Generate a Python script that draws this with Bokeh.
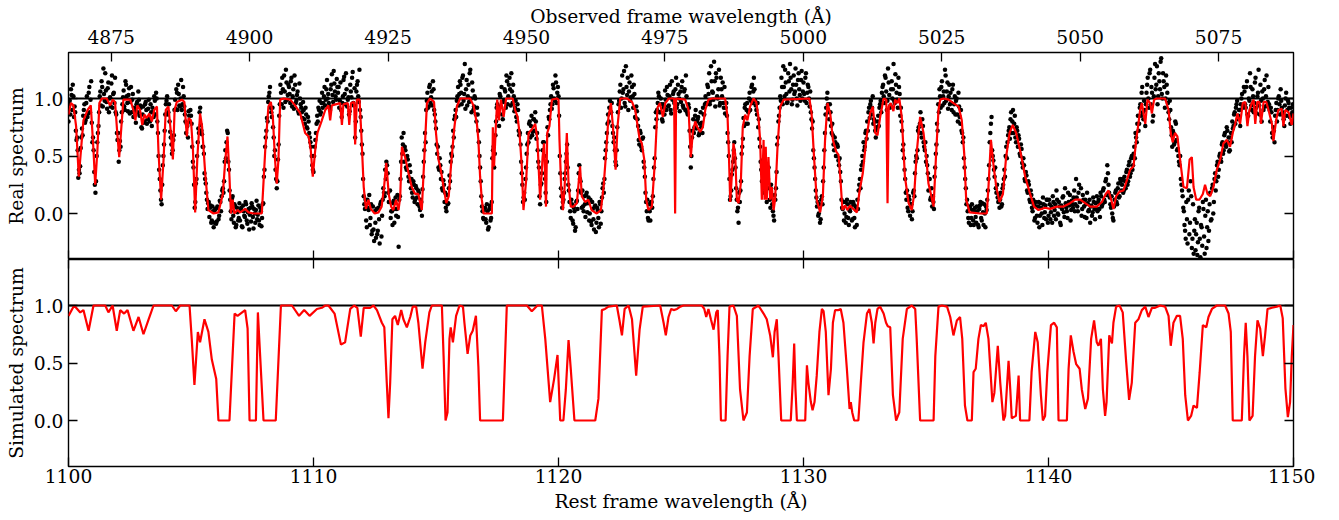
from bokeh.plotting import figure
from bokeh.models import (Range1d, LinearAxis, FixedTicker, PrintfTickFormatter,
                          ColumnDataSource, CustomJSTickFormatter)
from bokeh.layouts import column
from bokeh.embed import file_html
from bokeh.resources import INLINE

# ---------------- data ----------------
REST_TICKS = [1100, 1110, 1120, 1130, 1140, 1150]
OBS_TICKS = [4875, 4900, 4925, 4950, 4975, 5000, 5025, 5050, 5075]
FLUX_TICKS = [0.0, 0.5, 1.0]
REST_RANGE = (1100.0, 1150.0)
FLUX_RANGE = (-0.4, 1.4)
ONE_PLUS_Z = 4.42481
CONTINUUM = 1.0

# observed pixels: two interleaved pixel sets on a regular rest-wavelength grid
REAL_START_A = 1100.0
REAL_START_B = 1100.025
REAL_STEP = 0.05
REAL_FLUX_A = [
    0.80, 0.98, 1.08, 0.90, 1.02, 0.93, 0.72, 0.66, 0.31, 0.35, 0.57, 0.74, 0.85, 0.95, 0.81, 1.02, 0.87, 1.10, 0.99, 0.79,
    0.66, 0.36, 0.18, 0.50, 0.70, 0.88, 1.06, 1.15, 0.93, 1.04, 1.22, 0.97, 1.09, 0.88, 1.01, 1.13, 0.92, 1.05, 1.18, 0.86,
    0.64, 0.45, 0.63, 0.80, 0.95, 1.07, 0.90, 1.12, 0.96, 1.03, 0.87, 1.10, 0.99, 0.84, 0.90, 0.79, 0.97, 1.06, 0.85, 0.92,
    0.74, 0.93, 0.80, 0.97, 0.78, 0.91, 0.82, 0.95, 0.76, 0.88, 1.02, 0.86, 1.00, 0.70, 0.38, 0.20, 0.08, 0.42, 0.60, 0.86,
    0.98, 0.86, 0.95, 0.71, 0.60, 0.55, 0.68, 0.99, 1.08, 0.90, 1.04, 0.93, 1.16, 0.95, 1.02, 0.86, 0.70, 0.76, 0.89, 0.80,
    0.85, 0.58, 0.40, 0.05, 0.26, 0.50, 0.74, 0.88, 0.77, 0.69, 0.58, 0.35, 0.26, 0.12, 0.09, -0.03, 0.07, -0.06, 0.02, -0.08,
    0.04, -0.07, 0.05, -0.02, 0.10, 0.15, 0.22, 0.28, 0.55, 0.62, 0.70, 0.38, 0.12, -0.05, 0.15, -0.08, 0.06, -0.10, 0.01, -0.04,
    -0.06, 0.05, -0.12, 0.02, -0.03, 0.08, -0.09, 0.04, -0.01, -0.07, 0.06, -0.13, 0.00, 0.03, -0.05, 0.07, -0.10, 0.02, -0.04, 0.09,
    0.38, 0.66, 0.83, 0.97, 1.05, 0.92, 0.84, 0.75, 0.50, 0.38, 0.22, 0.47, 0.85, 1.12, 0.95, 1.08, 1.20, 0.97, 1.14, 1.03,
    1.10, 0.96, 1.18, 1.02, 0.91, 1.12, 0.98, 1.06, 0.87, 1.00, 0.92, 0.83, 0.90, 0.78, 0.86, 0.74, 0.80, 0.66, 0.58, 0.42,
    0.36, 0.58, 0.70, 0.85, 0.92, 0.98, 0.88, 1.05, 0.96, 1.10, 0.99, 1.16, 1.04, 0.93, 1.08, 1.21, 0.97, 1.13, 1.02, 1.17,
    1.05, 0.92, 1.14, 0.84, 1.02, 1.19, 0.95, 1.08, 0.99, 0.86, 1.12, 1.01, 1.23, 0.94, 0.66, 1.06, 1.15, 0.97, 0.90, 0.72,
    0.52, 0.15, 0.04, -0.06, 0.12, 0.03, -0.10, 0.08, -0.15, -0.14, 0.02, -0.21, -0.18, 0.05, -0.26, 0.10, -0.02, 0.22, 0.15, 0.30,
    0.42, 0.18, 0.10, -0.04, 0.02, 0.09, -0.08, 0.14, 0.04, -0.03, 0.12, 0.30, 0.66, 0.60, 0.45, 0.55, 0.38, 0.47, 0.28, 0.36,
    0.30, 0.14, 0.25, 0.12, 0.22, 0.08, 0.18, 0.03, 0.10, 0.21, 0.45, 0.70, 0.90, 1.05, 0.93, 1.12, 1.01, 0.94, 1.08, 0.86,
    0.74, 0.52, 0.40, 0.48, 0.30, 0.22, 0.29, 0.10, 0.05, 0.16, 0.09, 0.33, 0.45, 0.50, 0.72, 0.82, 0.90, 0.98, 1.10, 1.04,
    1.12, 0.95, 1.20, 1.04, 0.91, 1.16, 1.02, 0.97, 1.25, 0.88, 1.07, 0.93, 1.00, 0.80, 0.86, 0.62, 0.40, 0.15, 0.02, -0.05,
    0.05, -0.08, 0.02, -0.12, 0.07, -0.04, 0.48, 0.58, 0.52, 0.80, 0.95, 0.88, 1.04, 0.93, 0.86, 0.97, 1.08, 0.92, 1.15, 1.02,
    1.18, 0.94, 1.06, 1.12, 0.89, 0.98, 0.80, 0.90, 0.68, 0.60, 0.35, 0.10, 0.18, 0.30, 0.52, 0.70, 0.78, 0.66, 0.85, 0.71,
    0.82, 0.88, 0.65, 0.55, 0.40, 0.08, 0.26, 0.55, 0.62, 0.30, 0.10, 0.75, 0.84, 0.90, 1.02, 0.95, 1.09, 0.98, 1.14, 1.05,
    1.02, 0.50, 0.22, 0.05, 0.12, 0.30, 0.45, 0.60, 0.25, 0.10, -0.04, 0.08, -0.09, 0.02, -0.12, 0.11, 0.20, 0.42, 0.28, 0.05,
    0.06, 0.15, -0.03, 0.18, 0.09, -0.06, 0.12, -0.10, 0.04, -0.14, 0.07, -0.08, 0.03, -0.12, 0.08, 0.02, 0.22, 0.18, 0.48, 0.62,
    0.78, 0.80, 0.98, 0.88, 0.76, 0.62, 0.55, 0.42, 0.75, 0.95, 1.06, 0.92, 1.20, 1.08, 0.96, 1.28, 1.03, 0.90, 1.14, 1.01,
    1.10, 0.92, 1.04, 0.83, 0.89, 0.76, 0.60, 0.70, 0.55, 0.66, 0.40, 0.18, 0.02, -0.04, 0.08, -0.06, 0.10, 0.15, 0.40, 0.75,
    0.82, 0.96, 1.02, 0.88, 0.95, 0.80, 0.92, 1.07, 0.90, 1.03, 0.94, 1.12, 0.87, 0.99, 1.06, 0.91, 1.18, 0.95, 1.04, 0.89,
    0.97, 1.15, 0.92, 1.08, 1.20, 0.88, 0.95, 0.72, 0.40, 0.66, 0.82, 0.75, 0.90, 0.80, 0.84, 0.70, 0.88, 0.79, 0.92, 0.86,
    1.02, 0.95, 1.10, 1.22, 0.98, 1.15, 1.05, 1.32, 0.93, 1.18, 1.00, 1.25, 0.96, 1.08, 1.14, 0.92, 0.87, 0.96, 0.70, 0.50,
    0.12, 0.20, 0.38, 0.55, 0.48, 0.22, 0.02, -0.08, 0.10, 0.28, 0.58, 0.83, 0.92, 0.78, 0.96, 0.88, 1.05, 0.98, 1.12, 1.06,
    1.08, 0.94, 0.86, 0.75, 0.65, 0.45, 0.28, 0.35, 0.18, 0.40, 0.10, 0.30, 0.22, 0.05, 0.15, 0.02, -0.06, 0.12, 0.36, 0.66,
    0.85, 1.02, 1.18, 0.95, 1.10, 1.25, 1.04, 0.97, 1.15, 1.30, 1.08, 0.99, 1.20, 1.06, 1.12, 0.94, 1.22, 1.03, 1.16, 1.00,
    1.14, 0.98, 1.22, 1.05, 1.10, 0.93, 0.88, 0.74, 0.55, 0.40, 0.20, 0.06, -0.02, 0.08, -0.05, 0.15, 0.28, 0.55, 0.86, 1.00,
    0.95, 0.82, 0.88, 0.70, 0.68, 0.55, 0.62, 0.50, 0.58, 0.42, 0.36, 0.12, 0.04, -0.06, 0.10, -0.03, 0.08, -0.10, 0.02, 0.06,
    -0.05, 0.08, -0.12, 0.03, 0.12, 0.20, 0.30, 0.38, 0.50, 0.62, 0.58, 0.72, 0.80, 0.88, 0.83, 0.98, 0.92, 0.78, 0.80, 0.66,
    0.74, 0.85, 0.92, 0.98, 1.05, 1.12, 0.96, 1.18, 0.90, 1.26, 1.03, 0.94, 1.15, 1.08, 0.98, 1.21, 1.05, 0.92, 1.10, 0.85,
    0.80, 0.55, 0.48, 0.30, 0.12, 0.05, 0.15, -0.02, 0.08, 0.02, 0.20, 0.35, 0.50, 0.55, 0.75, 0.78, 0.70, 0.82, 0.62, 0.55,
    0.45, 0.42, 0.20, 0.30, 0.14, 0.06, 0.10, 0.32, 0.52, 0.78, 0.95, 1.08, 0.92, 1.15, 1.02, 0.96, 1.20, 1.06, 0.91, 1.12,
    1.05, 0.90, 1.12, 0.95, 0.86, 1.00, 0.80, 0.93, 0.78, 0.72, 0.62, 0.48, 0.30, 0.08, 0.02, -0.08, 0.06, -0.04, 0.03, -0.10,
    0.05, -0.08, 0.02, -0.12, 0.07, -0.04, 0.09, -0.10, 0.00, 0.06, 0.12, 0.30, 0.62, 0.78, 0.55, 0.46, 0.32, 0.22, 0.25, 0.10,
    0.05, 0.18, 0.08, 0.25, 0.38, 0.50, 0.48, 0.68, 0.75, 0.82, 0.70, 0.90, 0.78, 0.66, 0.75, 0.58, 0.65, 0.50, 0.56, 0.40,
    0.42, 0.28, 0.33, 0.18, 0.25, 0.10, 0.16, 0.02, 0.08, -0.04, 0.06, -0.08, 0.10, -0.02, 0.05, -0.10, 0.08, 0.01, -0.05, 0.12,
    -0.02, 0.08, 0.01, -0.08, 0.10, 0.03, -0.05, 0.12, -0.01, 0.06, -0.10, 0.04, 0.15, -0.03, 0.09, 0.02, 0.18, 0.07, -0.06, 0.11,
    0.05, 0.20, 0.08, 0.14, 0.02, 0.25, 0.10, -0.02, 0.16, 0.06, 0.12, -0.04, 0.09, 0.03, -0.08, 0.07, 0.01, 0.10, -0.05, 0.04,
    0.02, 0.12, -0.03, 0.15, 0.08, 0.22, 0.10, 0.30, 0.42, 0.25, 0.14, 0.05, 0.00, -0.06, 0.12, 0.20, 0.08, 0.26, 0.15, 0.28,
    0.25, 0.18, 0.32, 0.22, 0.38, 0.28, 0.45, 0.35, 0.50, 0.42, 0.58, 0.70, 0.62, 0.85, 0.78, 0.95, 1.05, 0.88, 0.98, 0.76,
    1.05, 1.18, 0.92, 1.25, 1.10, 0.80, 1.02, 1.30, 1.12, 0.95, 1.22, 1.08, 1.35, 1.00, 1.15, 0.92, 1.20, 1.05, 0.88, 0.98,
    0.75, 0.58, 0.70, 0.62, 0.78, 0.55, 0.50, 0.42, 0.30, 0.20, 0.05, -0.10, -0.22, -0.05, 0.12, -0.18, 0.28, -0.30, 0.08, -0.15,
    -0.32, -0.08, -0.25, 0.05, -0.38, -0.12, 0.10, -0.20, -0.02, -0.30, 0.02, -0.15, 0.18, -0.05, 0.25, 0.10, 0.35, 0.28, 0.45, 0.38,
    0.52, 0.45, 0.62, 0.55, 0.70, 0.58, 0.72, 0.66, 0.55, 0.70, 0.80, 0.76, 0.88, 0.92, 0.98, 0.85, 0.90, 0.95, 1.04, 0.93,
    1.06, 0.92, 1.15, 0.85, 0.98, 1.10, 0.90, 1.02, 0.96, 1.18, 0.87, 1.05, 0.94, 1.12, 0.80, 1.00, 1.08, 0.93, 1.20, 0.97,
    0.95, 0.80, 0.88, 0.66, 0.72, 0.85, 0.96, 0.90, 1.02, 0.86, 0.98, 0.88, 0.82, 0.94, 1.05, 0.90, 0.96, 0.84, 0.92, 0.88,
]
REAL_FLUX_B = [
    0.95, 0.86, 1.03, 1.12, 0.84, 0.88, 0.64, 0.55, 0.38, 0.41, 0.66, 0.68, 0.90, 0.79, 0.96, 0.84, 1.05, 0.88, 1.15, 0.62,
    0.55, 0.25, 0.28, 0.62, 0.76, 1.02, 0.94, 1.10, 1.26, 0.98, 1.07, 0.91, 1.14, 1.00, 0.93, 1.20, 1.04, 0.96, 0.88, 0.70,
    0.70, 0.55, 0.58, 0.88, 1.01, 0.93, 1.15, 1.02, 0.89, 1.09, 0.97, 0.88, 1.04, 0.92, 0.86, 0.95, 0.88, 0.99, 0.94, 0.75,
    0.86, 0.79, 0.95, 0.90, 0.82, 0.99, 0.80, 0.88, 0.92, 0.84, 0.98, 1.05, 0.80, 0.50, 0.30, 0.12, 0.25, 0.50, 0.72, 0.95,
    1.02, 0.88, 0.80, 0.66, 0.52, 0.64, 0.90, 0.91, 1.05, 1.12, 0.94, 1.00, 0.90, 1.10, 0.93, 0.80, 0.78, 0.66, 0.85, 0.90,
    0.78, 0.45, 0.25, 0.10, 0.30, 0.62, 0.70, 0.92, 0.72, 0.58, 0.52, 0.30, 0.18, 0.04, 0.10, 0.05, -0.08, 0.06, -0.12, 0.03,
    -0.09, 0.06, -0.05, 0.11, 0.02, 0.20, 0.18, 0.45, 0.48, 0.72, 0.45, 0.20, 0.02, 0.13, -0.02, 0.08, -0.12, 0.05, -0.06, 0.09,
    0.03, -0.11, 0.07, -0.02, 0.10, -0.06, 0.01, -0.14, 0.05, 0.09, -0.03, 0.04, -0.08, 0.11, -0.01, -0.06, 0.05, -0.11, 0.08, 0.32,
    0.58, 0.72, 0.80, 1.02, 1.10, 0.88, 0.92, 0.66, 0.55, 0.30, 0.28, 0.60, 0.95, 1.05, 1.18, 0.92, 1.06, 1.25, 0.99, 1.12,
    1.04, 1.15, 0.93, 1.08, 1.20, 0.96, 1.03, 0.89, 1.13, 0.95, 0.88, 0.97, 0.82, 0.92, 0.75, 0.84, 0.70, 0.62, 0.50, 0.38,
    0.50, 0.64, 0.78, 0.80, 0.90, 0.86, 0.96, 0.92, 1.02, 0.94, 1.08, 1.00, 0.96, 0.90, 1.12, 1.03, 1.24, 1.06, 0.99, 1.10,
    1.10, 0.98, 0.90, 0.96, 1.16, 1.04, 1.22, 0.93, 1.01, 0.89, 1.06, 1.18, 0.96, 1.09, 0.80, 1.12, 1.02, 1.25, 0.84, 0.60,
    0.30, 0.08, 0.12, -0.12, 0.05, 0.16, -0.04, -0.18, 0.06, -0.24, -0.08, 0.04, -0.15, -0.05, 0.08, -0.20, 0.12, 0.18, 0.38, 0.45,
    0.35, 0.10, 0.20, 0.02, -0.10, 0.11, 0.04, -0.02, 0.16, -0.29, 0.15, 0.45, 0.52, 0.70, 0.58, 0.40, 0.50, 0.32, 0.42, 0.22,
    0.18, 0.28, 0.10, 0.24, 0.14, 0.20, 0.06, 0.12, -0.02, 0.32, 0.55, 0.62, 0.98, 0.92, 1.10, 0.96, 1.06, 1.15, 0.90, 0.80,
    0.60, 0.58, 0.38, 0.42, 0.36, 0.20, 0.25, 0.18, 0.02, 0.08, 0.22, 0.28, 0.52, 0.58, 0.66, 0.85, 0.84, 1.02, 0.94, 1.15,
    1.05, 1.18, 0.98, 1.30, 1.08, 0.94, 1.12, 1.22, 1.00, 1.14, 0.90, 1.02, 0.86, 0.92, 0.72, 0.50, 0.28, 0.06, -0.04, 0.04,
    -0.05, 0.08, -0.14, 0.04, -0.06, 0.10, 0.55, 0.40, 0.68, 0.92, 0.85, 0.76, 1.02, 1.10, 0.82, 0.98, 1.06, 1.20, 0.95, 1.12,
    1.08, 1.22, 0.96, 1.02, 0.92, 0.84, 0.95, 0.72, 0.70, 0.45, 0.25, 0.14, 0.12, 0.40, 0.60, 0.62, 0.80, 0.76, 0.68, 0.82,
    0.72, 0.80, 0.70, 0.45, 0.15, 0.25, 0.35, 0.62, 0.50, 0.18, 0.45, 0.68, 0.82, 0.95, 0.91, 1.12, 1.00, 1.20, 0.96, 1.10,
    0.85, 0.35, 0.15, 0.10, 0.18, 0.35, 0.52, 0.40, 0.20, 0.02, 0.12, -0.06, 0.05, -0.15, 0.10, 0.04, 0.35, 0.30, 0.18, 0.20,
    0.02, 0.08, 0.16, 0.01, 0.14, 0.00, -0.07, 0.10, -0.05, 0.06, -0.16, 0.05, -0.04, 0.10, -0.09, 0.14, 0.26, 0.30, 0.55, 0.70,
    0.86, 0.92, 0.88, 0.96, 0.70, 0.66, 0.45, 0.55, 0.88, 0.98, 1.12, 1.00, 1.05, 1.24, 0.93, 1.10, 1.18, 1.06, 0.98, 1.20,
    1.02, 1.12, 0.84, 0.93, 0.82, 0.64, 0.72, 0.58, 0.65, 0.45, 0.32, 0.10, 0.12, -0.06, 0.02, 0.10, 0.05, 0.30, 0.48, 0.88,
    0.90, 1.05, 0.88, 1.00, 0.82, 0.95, 0.86, 0.99, 1.10, 0.93, 1.02, 0.90, 1.15, 1.04, 0.96, 1.08, 0.92, 1.12, 1.00, 1.06,
    1.10, 0.94, 1.06, 0.90, 1.02, 0.86, 0.92, 0.58, 0.50, 0.72, 0.70, 0.85, 0.74, 0.82, 0.68, 0.78, 0.75, 0.70, 0.86, 0.95,
    0.96, 1.12, 1.04, 0.95, 1.28, 1.06, 0.99, 1.15, 1.22, 1.02, 1.08, 0.94, 1.18, 1.02, 0.96, 1.10, 0.92, 0.85, 0.62, 0.30,
    0.15, 0.34, 0.45, 0.62, 0.40, 0.12, 0.05, 0.18, 0.20, 0.52, 0.65, 0.76, 0.95, 0.90, 0.78, 1.00, 0.90, 1.10, 0.96, 1.18,
    0.98, 0.90, 0.96, 0.82, 0.58, 0.38, 0.46, 0.22, 0.30, 0.24, 0.32, 0.40, 0.12, 0.25, 0.08, -0.02, 0.16, 0.22, 0.60, 0.80,
    0.92, 0.98, 1.10, 1.28, 1.02, 1.14, 0.96, 1.22, 1.06, 1.18, 0.95, 1.12, 1.04, 1.26, 1.00, 1.16, 1.08, 0.98, 1.24, 1.06,
    1.04, 1.18, 0.96, 1.12, 1.00, 1.06, 0.82, 0.80, 0.48, 0.30, 0.14, 0.10, 0.00, -0.08, 0.12, 0.08, 0.40, 0.70, 0.92, 1.05,
    0.88, 0.95, 0.76, 0.78, 0.60, 0.66, 0.50, 0.60, 0.46, 0.48, 0.28, 0.05, 0.10, 0.00, -0.08, 0.12, -0.04, 0.03, 0.10, -0.06,
    0.10, -0.04, 0.06, -0.10, 0.04, 0.25, 0.22, 0.42, 0.45, 0.55, 0.70, 0.65, 0.72, 0.92, 0.95, 0.86, 1.02, 0.82, 0.72, 0.75,
    0.80, 0.76, 0.95, 0.88, 1.10, 1.02, 1.20, 1.06, 0.98, 1.14, 0.92, 1.08, 1.00, 1.30, 0.96, 1.12, 0.99, 1.18, 1.04, 0.92,
    0.72, 0.60, 0.38, 0.18, 0.20, 0.02, 0.12, 0.08, -0.05, 0.18, 0.15, 0.45, 0.48, 0.72, 0.70, 0.88, 0.66, 0.76, 0.58, 0.62,
    0.50, 0.35, 0.30, 0.12, 0.22, 0.15, 0.04, 0.40, 0.60, 0.72, 0.88, 1.02, 1.10, 0.94, 1.06, 1.25, 0.98, 1.14, 1.02, 0.95,
    0.96, 1.08, 0.88, 1.02, 0.98, 0.86, 1.05, 0.84, 0.90, 0.70, 0.66, 0.40, 0.22, 0.12, -0.04, 0.04, -0.10, 0.08, -0.06, 0.02,
    -0.03, 0.06, -0.10, 0.04, 0.10, -0.06, 0.01, 0.08, -0.12, 0.03, 0.20, 0.42, 0.70, 0.84, 0.50, 0.38, 0.40, 0.18, 0.14, 0.16,
    0.12, 0.06, 0.22, 0.30, 0.32, 0.58, 0.62, 0.72, 0.65, 0.88, 0.80, 0.70, 0.85, 0.62, 0.72, 0.68, 0.52, 0.60, 0.44, 0.48,
    0.30, 0.36, 0.20, 0.28, 0.12, 0.20, 0.05, 0.12, -0.06, 0.10, -0.02, 0.06, -0.12, 0.09, 0.00, 0.14, -0.04, 0.07, 0.12, -0.08,
    0.12, -0.05, 0.06, 0.15, -0.02, 0.08, 0.20, 0.00, 0.10, -0.08, 0.07, 0.14, 0.01, 0.22, 0.05, -0.04, 0.10, 0.16, 0.03, 0.08,
    0.14, 0.02, 0.30, 0.06, 0.18, 0.10, 0.22, 0.04, 0.12, -0.03, 0.08, 0.18, 0.02, 0.12, 0.06, -0.02, 0.14, 0.04, 0.09, 0.15,
    0.10, 0.04, 0.18, 0.06, 0.20, 0.12, 0.28, 0.16, 0.35, 0.18, 0.08, 0.15, -0.04, 0.06, 0.18, 0.10, 0.22, 0.14, 0.30, 0.20,
    0.30, 0.20, 0.28, 0.36, 0.25, 0.42, 0.32, 0.48, 0.38, 0.52, 0.48, 0.66, 0.78, 0.72, 0.92, 0.85, 1.10, 0.82, 0.90, 0.95,
    1.12, 1.00, 1.22, 0.95, 1.05, 0.85, 1.18, 1.08, 1.28, 1.02, 1.15, 1.32, 1.04, 1.22, 1.10, 1.00, 1.12, 0.96, 0.82, 0.90,
    0.68, 0.72, 0.60, 0.80, 0.64, 0.56, 0.45, 0.50, 0.25, 0.15, 0.02, -0.15, 0.10, -0.26, 0.20, -0.08, 0.15, -0.22, -0.35, -0.05,
    -0.18, -0.36, 0.02, -0.22, -0.10, -0.28, 0.04, -0.35, 0.12, -0.12, -0.24, 0.08, -0.06, 0.22, 0.00, 0.30, 0.20, 0.42, 0.32, 0.50,
    0.48, 0.60, 0.52, 0.68, 0.60, 0.75, 0.62, 0.54, 0.66, 0.62, 0.74, 0.86, 0.78, 0.95, 0.82, 0.90, 0.76, 1.00, 0.92, 1.10,
    0.95, 1.10, 0.86, 1.00, 1.22, 0.94, 1.08, 0.88, 1.14, 0.92, 1.02, 1.25, 0.86, 0.98, 1.06, 0.90, 1.16, 1.02, 0.94, 1.10,
    0.90, 0.92, 0.70, 0.75, 0.62, 0.90, 0.80, 1.00, 0.95, 1.08, 0.92, 0.86, 0.76, 1.00, 0.85, 0.98, 0.92, 0.78, 0.86, 0.95,
]

# fitted model to the real spectrum: (rest wavelength, flux)
MODEL_REAL = [
    (1100.00, 0.86), (1100.10, 0.96), (1100.20, 0.94), (1100.31, 0.76), (1100.42, 0.32), (1100.52, 0.58),
    (1100.61, 0.81), (1100.78, 0.90), (1100.91, 0.94), (1101.02, 0.55), (1101.09, 0.25), (1101.18, 0.55),
    (1101.26, 0.96), (1101.36, 1.00), (1101.56, 1.00), (1101.70, 0.94), (1101.80, 0.99), (1101.90, 0.97),
    (1101.99, 0.70), (1102.07, 0.49), (1102.14, 0.70), (1102.24, 0.99), (1102.52, 0.99), (1102.65, 0.90),
    (1102.73, 0.81), (1102.81, 0.94), (1102.92, 0.90), (1103.01, 0.77), (1103.10, 0.86), (1103.19, 0.83),
    (1103.30, 0.87), (1103.40, 0.80), (1103.50, 0.90), (1103.61, 0.93), (1103.67, 0.55), (1103.78, 0.12),
    (1103.88, 0.47), (1103.97, 0.90), (1104.08, 0.93), (1104.18, 0.70), (1104.26, 0.47), (1104.33, 0.90),
    (1104.42, 0.97), (1104.63, 0.99), (1104.73, 0.97), (1104.83, 0.67), (1104.90, 0.83), (1105.00, 0.81),
    (1105.08, 0.55), (1105.17, 0.01), (1105.26, 0.49), (1105.37, 0.87), (1105.45, 0.76), (1105.58, 0.35),
    (1105.71, 0.03), (1105.92, 0.00), (1106.12, 0.01), (1106.30, 0.17), (1106.39, 0.44), (1106.49, 0.67),
    (1106.57, 0.32), (1106.63, 0.00), (1106.70, 0.12), (1106.77, 0.00), (1106.90, 0.03), (1107.01, 0.01),
    (1107.21, 0.04), (1107.35, 0.01), (1107.55, 0.00), (1107.89, 0.00), (1108.03, 0.55), (1108.16, 0.93),
    (1108.26, 0.97), (1108.34, 0.84), (1108.43, 0.47), (1108.50, 0.26), (1108.57, 0.47), (1108.64, 0.99),
    (1108.78, 1.00), (1109.05, 0.99), (1109.25, 0.94), (1109.46, 0.87), (1109.66, 0.70), (1109.80, 0.67),
    (1109.89, 0.55), (1109.97, 0.32), (1110.07, 0.55), (1110.16, 0.70), (1110.34, 0.81), (1110.48, 0.90),
    (1110.61, 0.94), (1110.68, 0.81), (1110.75, 0.94), (1111.09, 0.96), (1111.16, 0.77), (1111.22, 0.95),
    (1111.40, 0.96), (1111.46, 0.77), (1111.53, 0.96), (1111.66, 0.97), (1111.70, 0.60), (1111.77, 0.99),
    (1111.88, 0.99), (1111.95, 0.70), (1112.05, 0.23), (1112.14, 0.04), (1112.24, 0.12), (1112.34, 0.04),
    (1112.50, 0.00), (1112.65, 0.01), (1112.78, 0.06), (1112.88, 0.23), (1112.97, 0.44), (1113.07, 0.17),
    (1113.17, 0.06), (1113.26, 0.03), (1113.37, 0.12), (1113.47, 0.03), (1113.54, 0.15), (1113.61, 0.58),
    (1113.74, 0.49), (1113.88, 0.35), (1114.01, 0.23), (1114.15, 0.17), (1114.28, 0.17), (1114.42, 0.03),
    (1114.52, 0.47), (1114.63, 0.96), (1114.76, 1.00), (1114.92, 0.97), (1115.00, 0.70), (1115.10, 0.47),
    (1115.17, 0.41), (1115.31, 0.23), (1115.42, 0.09), (1115.52, 0.15), (1115.61, 0.41), (1115.74, 0.73),
    (1115.85, 0.93), (1115.99, 1.00), (1116.39, 1.00), (1116.53, 0.94), (1116.67, 0.78), (1116.73, 0.64),
    (1116.80, 0.32), (1116.87, 0.12), (1116.94, 0.00), (1117.28, 0.00), (1117.32, 0.75), (1117.37, 0.41),
    (1117.44, 0.75), (1117.50, 0.99), (1117.57, 0.81), (1117.65, 0.99), (1117.76, 0.84), (1117.86, 1.00),
    (1118.13, 1.00), (1118.23, 0.90), (1118.33, 0.84), (1118.41, 0.70), (1118.50, 0.41), (1118.57, 0.03),
    (1118.68, 0.29), (1118.78, 0.70), (1118.91, 0.73), (1119.05, 0.78), (1119.14, 0.64), (1119.25, 0.12),
    (1119.35, 0.49), (1119.41, 0.61), (1119.49, 0.06), (1119.54, 0.70), (1119.63, 0.76), (1119.73, 0.99),
    (1119.93, 1.00), (1120.00, 0.99), (1120.04, 0.64), (1120.11, 0.23), (1120.18, 0.03), (1120.25, 0.23),
    (1120.34, 0.70), (1120.41, 0.26), (1120.50, 0.06), (1120.61, 0.06), (1120.75, 0.09), (1120.88, 0.41),
    (1120.95, 0.15), (1121.09, 0.10), (1121.22, 0.12), (1121.35, 0.03), (1121.56, 0.00), (1121.73, 0.03),
    (1121.84, 0.23), (1121.95, 0.55), (1122.04, 0.84), (1122.14, 0.96), (1122.22, 0.76), (1122.27, 0.61),
    (1122.33, 0.38), (1122.41, 0.76), (1122.52, 1.00), (1122.79, 1.00), (1123.00, 0.97), (1123.13, 0.90),
    (1123.31, 0.65), (1123.40, 0.61), (1123.50, 0.47), (1123.58, 0.12), (1123.67, 0.03), (1123.81, 0.06),
    (1123.94, 0.47), (1124.04, 0.92), (1124.14, 0.96), (1124.26, 0.84), (1124.36, 0.96), (1124.50, 1.00),
    (1124.72, 1.00), (1124.76, 0.00), (1124.80, 1.00), (1125.17, 0.99), (1125.31, 0.90), (1125.40, 0.49),
    (1125.48, 0.70), (1125.58, 0.80), (1125.67, 0.75), (1125.78, 0.71), (1125.89, 0.75), (1125.99, 0.90),
    (1126.12, 0.99), (1126.26, 1.00), (1126.80, 1.00), (1126.90, 0.84), (1126.95, 0.55), (1127.01, 0.10),
    (1127.08, 0.35), (1127.14, 0.61), (1127.21, 0.52), (1127.28, 0.12), (1127.35, 0.09), (1127.44, 0.26),
    (1127.52, 0.75), (1127.62, 0.86), (1127.71, 0.81), (1127.82, 0.93), (1127.96, 1.00), (1128.07, 0.97),
    (1128.16, 0.84), (1128.23, 0.64), (1128.30, 0.12), (1128.37, 0.64), (1128.41, 0.12), (1128.46, 0.58),
    (1128.50, 0.12), (1128.57, 0.49), (1128.64, 0.12), (1128.71, 0.23), (1128.78, 0.03), (1128.84, 0.12),
    (1128.94, 0.58), (1129.05, 0.93), (1129.19, 0.99), (1130.24, 1.00), (1130.33, 0.87), (1130.43, 0.49),
    (1130.54, 0.12), (1130.68, 0.01), (1130.79, 0.15), (1130.88, 0.64), (1130.98, 0.96), (1131.09, 0.87),
    (1131.20, 0.64), (1131.33, 0.54), (1131.43, 0.51), (1131.50, 0.32), (1131.59, 0.03), (1131.70, 0.07),
    (1131.79, 0.03), (1131.90, 0.07), (1132.03, 0.04), (1132.18, 0.01), (1132.29, 0.20), (1132.42, 0.35),
    (1132.56, 0.64), (1132.72, 0.87), (1132.83, 0.93), (1132.93, 0.70), (1133.02, 0.68), (1133.13, 0.84),
    (1133.27, 1.00), (1133.38, 0.99), (1133.43, 0.09), (1133.48, 0.93), (1133.56, 0.96), (1133.67, 0.89),
    (1133.74, 0.99), (1133.83, 0.96), (1133.91, 1.00), (1134.01, 0.84), (1134.14, 0.32), (1134.29, 0.09),
    (1134.42, 0.03), (1134.52, 0.17), (1134.63, 0.55), (1134.76, 0.84), (1134.90, 0.70), (1135.01, 0.49),
    (1135.10, 0.26), (1135.20, 0.17), (1135.31, 0.06), (1135.42, 0.55), (1135.51, 0.90), (1135.58, 0.99),
    (1135.72, 1.00), (1135.92, 0.99), (1136.12, 0.96), (1136.33, 0.93), (1136.46, 0.81), (1136.56, 0.52),
    (1136.64, 0.12), (1136.78, 0.01), (1137.21, 0.00), (1137.48, 0.00), (1137.55, 0.23), (1137.65, 0.64),
    (1137.76, 0.41), (1137.87, 0.23), (1138.00, 0.10), (1138.14, 0.17), (1138.27, 0.49), (1138.41, 0.70),
    (1138.54, 0.77), (1138.68, 0.70), (1138.84, 0.55), (1139.05, 0.32), (1139.25, 0.17), (1139.41, 0.06),
    (1139.59, 0.03), (1139.86, 0.05), (1140.07, 0.04), (1140.34, 0.06), (1140.61, 0.06), (1140.88, 0.09),
    (1141.09, 0.12), (1141.29, 0.12), (1141.50, 0.09), (1141.70, 0.06), (1141.97, 0.06), (1142.18, 0.10),
    (1142.34, 0.17), (1142.45, 0.20), (1142.56, 0.12), (1142.65, 0.04), (1142.76, 0.15), (1142.90, 0.19),
    (1143.06, 0.20), (1143.20, 0.29), (1143.33, 0.38), (1143.47, 0.41), (1143.58, 0.64), (1143.67, 0.78),
    (1143.74, 0.90), (1143.81, 0.96), (1143.88, 0.87), (1143.95, 0.78), (1144.04, 0.99), (1144.15, 0.96),
    (1144.22, 0.87), (1144.31, 0.99), (1144.42, 1.00), (1144.76, 1.00), (1144.90, 0.90), (1144.99, 0.70),
    (1145.07, 0.62), (1145.16, 0.70), (1145.26, 0.67), (1145.37, 0.47), (1145.51, 0.23), (1145.65, 0.22),
    (1145.76, 0.47), (1145.85, 0.49), (1145.92, 0.23), (1146.03, 0.12), (1146.16, 0.12), (1146.30, 0.17),
    (1146.39, 0.25), (1146.49, 0.17), (1146.60, 0.15), (1146.73, 0.23), (1146.87, 0.38), (1147.01, 0.47),
    (1147.14, 0.61), (1147.28, 0.64), (1147.41, 0.58), (1147.52, 0.70), (1147.62, 0.78), (1147.71, 0.87),
    (1147.82, 0.78), (1147.93, 0.96), (1148.03, 0.97), (1148.12, 0.76), (1148.20, 0.90), (1148.30, 0.96),
    (1148.37, 0.99), (1148.44, 0.78), (1148.52, 0.97), (1148.61, 0.97), (1148.67, 0.78), (1148.78, 0.97),
    (1148.89, 0.97), (1148.98, 0.90), (1149.12, 0.78), (1149.18, 0.63), (1149.29, 0.81), (1149.38, 0.90),
    (1149.52, 0.91), (1149.59, 0.76), (1149.66, 0.90), (1149.80, 0.88), (1149.93, 0.77), (1150.00, 0.87),
]

# simulated spectrum: (rest wavelength, flux)
MODEL_SIM = [
    (1100.00, 0.91), (1100.23, 1.00), (1100.48, 0.94), (1100.61, 0.96), (1100.82, 0.78), (1101.02, 1.00),
    (1101.50, 1.00), (1101.63, 0.94), (1101.80, 1.00), (1101.97, 0.78), (1102.11, 0.96), (1102.27, 0.93),
    (1102.41, 0.96), (1102.65, 0.78), (1102.86, 0.90), (1103.06, 0.75), (1103.27, 0.88), (1103.47, 1.00),
    (1104.22, 1.00), (1104.38, 0.95), (1104.56, 1.00), (1104.94, 1.00), (1105.03, 0.71), (1105.14, 0.31),
    (1105.28, 0.77), (1105.37, 0.68), (1105.55, 0.88), (1105.71, 0.77), (1105.85, 0.53), (1106.03, 0.36),
    (1106.12, 0.00), (1106.57, 0.00), (1106.78, 0.93), (1106.90, 0.91), (1107.21, 0.96), (1107.31, 0.80),
    (1107.39, 0.00), (1107.65, 0.00), (1107.73, 0.94), (1107.96, 0.00), (1108.46, 0.00), (1108.67, 1.00),
    (1109.12, 1.00), (1109.41, 0.91), (1109.62, 0.96), (1109.84, 0.91), (1110.14, 0.97), (1110.34, 0.98),
    (1110.48, 1.00), (1110.61, 1.00), (1110.86, 0.93), (1111.12, 0.66), (1111.29, 0.68), (1111.50, 0.97),
    (1111.66, 1.00), (1111.79, 0.98), (1111.93, 0.73), (1112.05, 0.98), (1112.31, 0.98), (1112.45, 1.00),
    (1112.59, 0.96), (1112.79, 0.85), (1112.89, 0.81), (1112.99, 0.33), (1113.06, 0.02), (1113.13, 0.33),
    (1113.22, 0.88), (1113.33, 0.91), (1113.44, 0.83), (1113.58, 0.96), (1113.67, 0.88), (1113.81, 0.81),
    (1113.95, 0.90), (1114.05, 0.99), (1114.19, 0.99), (1114.28, 0.85), (1114.45, 0.45), (1114.56, 0.68),
    (1114.73, 0.94), (1114.83, 1.00), (1115.24, 1.00), (1115.31, 0.56), (1115.39, 0.00), (1115.47, 0.07),
    (1115.55, 0.71), (1115.60, 0.81), (1115.69, 0.68), (1115.82, 0.91), (1115.96, 1.00), (1116.10, 0.99),
    (1116.16, 0.85), (1116.29, 0.58), (1116.40, 0.74), (1116.50, 0.78), (1116.63, 0.91), (1116.73, 0.47),
    (1116.80, 0.00), (1117.73, 0.00), (1117.89, 1.00), (1118.71, 1.00), (1118.91, 0.95), (1119.14, 1.00),
    (1119.32, 1.00), (1119.46, 0.71), (1119.66, 0.16), (1119.82, 0.36), (1119.96, 0.57), (1120.07, 0.00),
    (1120.20, 0.00), (1120.30, 0.27), (1120.41, 0.70), (1120.50, 0.45), (1120.65, 0.00), (1121.50, 0.00),
    (1121.63, 0.19), (1121.77, 0.96), (1121.90, 0.97), (1122.04, 0.99), (1122.38, 1.00), (1122.49, 0.87),
    (1122.59, 0.74), (1122.70, 0.97), (1122.86, 1.00), (1123.00, 0.88), (1123.17, 0.39), (1123.31, 0.79),
    (1123.44, 0.99), (1124.15, 1.00), (1124.29, 0.85), (1124.38, 0.74), (1124.49, 0.90), (1124.60, 0.97),
    (1124.70, 0.96), (1124.84, 0.97), (1124.97, 0.99), (1125.10, 1.00), (1125.85, 1.00), (1125.95, 0.97),
    (1126.03, 0.90), (1126.12, 0.97), (1126.22, 0.88), (1126.33, 0.79), (1126.44, 0.94), (1126.50, 0.96),
    (1126.57, 0.56), (1126.63, 0.00), (1126.82, 0.00), (1126.90, 0.56), (1126.98, 0.99), (1127.14, 1.00),
    (1127.28, 0.91), (1127.41, 0.27), (1127.55, 0.00), (1127.69, 0.07), (1127.80, 0.56), (1127.93, 0.97),
    (1128.16, 1.00), (1128.37, 0.93), (1128.50, 0.88), (1128.64, 0.74), (1128.75, 0.55), (1128.82, 0.77),
    (1128.91, 0.88), (1128.98, 0.56), (1129.09, 0.00), (1129.48, 0.00), (1129.56, 0.33), (1129.62, 0.67),
    (1129.67, 0.28), (1129.73, 0.00), (1130.07, 0.00), (1130.14, 0.48), (1130.20, 0.33), (1130.30, 0.16),
    (1130.37, 0.09), (1130.45, 0.16), (1130.54, 0.39), (1130.65, 0.77), (1130.75, 0.97), (1130.82, 0.95),
    (1130.91, 0.77), (1131.02, 0.22), (1131.12, 0.45), (1131.20, 0.85), (1131.29, 0.96), (1131.43, 0.96),
    (1131.52, 0.97), (1131.63, 0.85), (1131.77, 0.45), (1131.88, 0.10), (1131.93, 0.16), (1131.99, 0.07),
    (1132.07, 0.00), (1132.24, 0.00), (1132.34, 0.33), (1132.45, 0.68), (1132.59, 0.93), (1132.69, 0.97),
    (1132.79, 0.85), (1132.86, 0.67), (1132.93, 0.85), (1133.02, 0.97), (1133.13, 0.99), (1133.27, 0.93),
    (1133.37, 0.85), (1133.44, 0.82), (1133.54, 0.81), (1133.65, 0.22), (1133.78, 0.00), (1133.91, 0.07),
    (1134.05, 0.71), (1134.22, 0.97), (1134.42, 1.00), (1134.56, 0.97), (1134.62, 0.71), (1134.76, 0.00),
    (1135.31, 0.00), (1135.38, 0.56), (1135.51, 0.99), (1135.65, 1.00), (1135.86, 0.99), (1135.99, 0.90),
    (1136.12, 0.74), (1136.26, 0.87), (1136.39, 0.90), (1136.48, 0.71), (1136.59, 0.13), (1136.69, 0.00),
    (1136.87, 0.00), (1136.94, 0.42), (1137.03, 0.45), (1137.14, 0.71), (1137.24, 0.83), (1137.35, 0.82),
    (1137.44, 0.85), (1137.55, 0.71), (1137.71, 0.16), (1137.79, 0.24), (1137.93, 0.65), (1138.03, 0.33),
    (1138.16, 0.00), (1138.23, 0.04), (1138.37, 0.52), (1138.44, 0.27), (1138.50, 0.02), (1138.67, 0.04),
    (1138.78, 0.39), (1138.84, 0.00), (1139.22, 0.00), (1139.31, 0.42), (1139.46, 0.77), (1139.56, 0.68),
    (1139.69, 0.22), (1139.77, 0.00), (1139.86, 0.04), (1139.95, 0.42), (1140.10, 0.83), (1140.23, 0.85),
    (1140.34, 0.81), (1140.41, 0.00), (1140.75, 0.00), (1140.82, 0.45), (1140.91, 0.74), (1141.02, 0.60),
    (1141.13, 0.49), (1141.27, 0.45), (1141.36, 0.27), (1141.50, 0.10), (1141.61, 0.19), (1141.74, 0.71),
    (1141.86, 0.87), (1141.97, 0.68), (1142.04, 0.65), (1142.14, 0.71), (1142.22, 0.27), (1142.31, 0.04),
    (1142.37, 0.16), (1142.48, 0.74), (1142.59, 0.67), (1142.65, 0.85), (1142.76, 0.99), (1142.90, 1.00),
    (1143.03, 0.94), (1143.17, 0.51), (1143.29, 0.18), (1143.40, 0.33), (1143.54, 0.85), (1143.67, 0.88),
    (1143.81, 0.96), (1143.95, 0.99), (1144.08, 0.90), (1144.22, 0.98), (1144.35, 0.98), (1144.56, 1.00),
    (1144.76, 0.99), (1144.90, 0.91), (1144.99, 0.65), (1145.10, 0.85), (1145.24, 0.91), (1145.37, 0.91),
    (1145.48, 0.71), (1145.58, 0.22), (1145.69, 0.00), (1145.82, 0.04), (1145.92, 0.13), (1146.06, 0.11),
    (1146.17, 0.42), (1146.30, 0.83), (1146.44, 0.81), (1146.53, 0.90), (1146.67, 0.97), (1146.87, 1.00),
    (1147.21, 1.00), (1147.35, 0.93), (1147.44, 0.77), (1147.52, 0.00), (1147.89, 0.00), (1147.98, 0.56),
    (1148.05, 0.85), (1148.12, 0.56), (1148.20, 0.00), (1148.33, 0.04), (1148.43, 0.56), (1148.53, 0.87),
    (1148.64, 0.80), (1148.75, 0.56), (1148.84, 0.74), (1148.94, 0.97), (1149.12, 0.98), (1149.32, 0.99),
    (1149.46, 1.00), (1149.56, 0.89), (1149.67, 0.28), (1149.77, 0.03), (1149.86, 0.16), (1149.93, 0.56),
    (1150.00, 0.83),
]

# ---------------- styling ----------------
FONT = "DejaVu Serif"
FS = "18.7px"
TICK_LEN = 9
FRAME_W = 1225
FRAME_H = 207

wave_a = [REAL_START_A + i * REAL_STEP for i in range(len(REAL_FLUX_A))]
wave_b = [REAL_START_B + i * REAL_STEP for i in range(len(REAL_FLUX_B))]
src_data = ColumnDataSource(dict(x=wave_a + wave_b, y=REAL_FLUX_A + REAL_FLUX_B))
src_model = ColumnDataSource(dict(x=[w for w, f in MODEL_REAL], y=[f for w, f in MODEL_REAL]))
src_sim = ColumnDataSource(dict(x=[w for w, f in MODEL_SIM], y=[f for w, f in MODEL_SIM]))

x_range = Range1d(*REST_RANGE)


def style_axis(ax, labels=True):
    ax.major_tick_in = TICK_LEN
    ax.major_tick_out = 0
    ax.minor_tick_in = 0
    ax.minor_tick_out = 0
    ax.major_tick_line_color = "black"
    ax.major_tick_line_width = 1.3
    ax.axis_line_color = None
    ax.major_label_text_font = FONT
    ax.major_label_text_color = "black"
    ax.axis_label_text_font = FONT
    ax.axis_label_text_font_size = FS
    ax.axis_label_text_font_style = "normal"
    ax.axis_label_text_color = "black"
    if labels:
        ax.major_label_text_font_size = FS
    else:
        ax.formatter = CustomJSTickFormatter(code="return ''")
        ax.major_label_text_font_size = "0px"
        ax.major_label_standoff = 0
        ax.axis_label_standoff = 0


def make_fig(top_border, bottom_border):
    p = figure(x_range=x_range, y_range=Range1d(*FLUX_RANGE),
               frame_width=FRAME_W, frame_height=FRAME_H,
               x_axis_type=None, y_axis_type=None,
               min_border_left=68, min_border_right=22,
               min_border_top=top_border, min_border_bottom=bottom_border,
               toolbar_location=None, output_backend="svg")
    p.outline_line_color = "black"
    p.outline_line_width = 1.4
    p.background_fill_color = "white"
    p.border_fill_color = "white"
    return p


def add_flux_axes(p, label):
    left = LinearAxis(ticker=FixedTicker(ticks=FLUX_TICKS),
                      formatter=PrintfTickFormatter(format="%.1f"), axis_label=label)
    style_axis(left)
    left.major_label_standoff = 5
    left.axis_label_standoff = 4
    p.add_layout(left, "left")
    right = LinearAxis(ticker=FixedTicker(ticks=FLUX_TICKS))
    style_axis(right, labels=False)
    p.add_layout(right, "right")


# ---- top panel: real spectrum ----
p1 = make_fig(52, 0)
p1.extra_x_ranges = {"obs": Range1d(REST_RANGE[0] * ONE_PLUS_Z, REST_RANGE[1] * ONE_PLUS_Z)}
obs_axis = LinearAxis(x_range_name="obs", ticker=FixedTicker(ticks=OBS_TICKS),
                      axis_label="Observed frame wavelength (Å)")
style_axis(obs_axis)
obs_axis.major_label_standoff = 9
obs_axis.axis_label_standoff = 0
p1.add_layout(obs_axis, "above")
rest_in = LinearAxis(ticker=FixedTicker(ticks=REST_TICKS))
style_axis(rest_in, labels=False)
p1.add_layout(rest_in, "below")
add_flux_axes(p1, "Real spectrum")

p1.scatter("x", "y", source=src_data, size=4.5, color="black", line_color=None)
p1.hspan(y=[CONTINUUM], line_color="black", line_width=2)
p1.line("x", "y", source=src_model, line_color="red", line_width=2.2)

# ---- bottom panel: simulated spectrum ----
p2 = make_fig(0, 54)
rest_top = LinearAxis(ticker=FixedTicker(ticks=REST_TICKS))
style_axis(rest_top, labels=False)
p2.add_layout(rest_top, "above")
rest_axis = LinearAxis(ticker=FixedTicker(ticks=REST_TICKS), axis_label="Rest frame wavelength (Å)")
style_axis(rest_axis)
rest_axis.major_label_standoff = 2
rest_axis.axis_label_standoff = 5
p2.add_layout(rest_axis, "below")
add_flux_axes(p2, "Simulated spectrum")

p2.hspan(y=[CONTINUUM], line_color="black", line_width=2)
p2.line("x", "y", source=src_sim, line_color="red", line_width=2.2)

layout = column(p1, p2, spacing=0)
open("out.html", "w").write(file_html(layout, INLINE))
